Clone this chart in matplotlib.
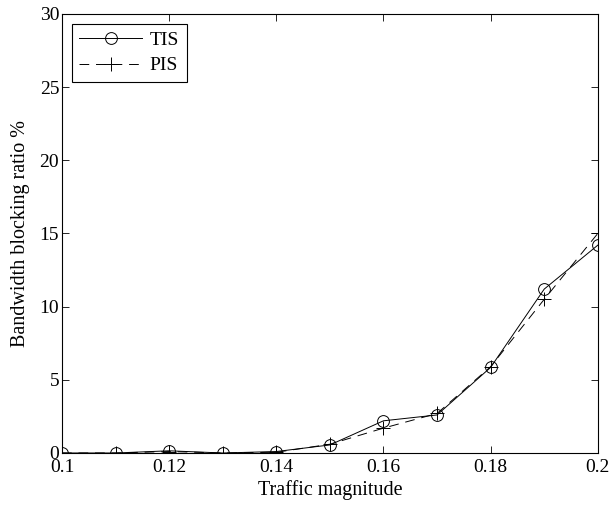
import matplotlib
matplotlib.use("Agg")
import matplotlib.pyplot as plt

plt.rcParams['font.family'] = ['Liberation Serif', 'DejaVu Serif']

# dados
trafego = [0.10, 0.11, 0.12, 0.13, 0.14, 0.15, 0.16, 0.17, 0.18, 0.19, 0.20]
tis = [0.0, 0.0, 0.15, 0.0, 0.1, 0.55, 2.2, 2.6, 5.85, 11.2, 14.2]
pis = [0.0, 0.0, 0.1, 0.0, 0.05, 0.6, 1.7, 2.7, 5.9, 10.5, 15.0]

fig = plt.figure(figsize=(6.1, 5.17), dpi=100)
ax = fig.add_axes([0.1016, 0.1238, 0.8784, 0.8492])

ax.plot(trafego, tis, '-o', color='black', lw=0.7, ms=8.5, mfc='none', mew=0.7, label='TIS')
ax.plot(trafego, pis, '--+', color='black', lw=0.7, ms=10, mew=0.7, dashes=(10, 7), label='PIS')

ax.set_xlim(0.1, 0.2)
ax.set_ylim(0, 30)
ax.set_xticks([0.1, 0.12, 0.14, 0.16, 0.18, 0.2])
ax.set_xticklabels(['0.1', '0.12', '0.14', '0.16', '0.18', '0.2'])
ax.set_yticks([0, 5, 10, 15, 20, 25, 30])
ax.tick_params(direction='in', top=True, right=True, labelsize=14, length=5, width=0.6)
ax.tick_params(axis='y', pad=2)
ax.tick_params(axis='x', pad=4)
for s in ax.spines.values():
    s.set_linewidth(0.8)

ax.set_xlabel('Traffic magnitude', fontsize=14.5, labelpad=3)
ax.set_ylabel('Bandwidth blocking ratio %', fontsize=14.5, labelpad=7)

leg = ax.legend(loc='upper left', fontsize=14, fancybox=False, edgecolor='black',
                framealpha=1, handlelength=3.2, labelspacing=0.4, borderaxespad=0.5,
                handletextpad=0.4, borderpad=0.4)
leg.get_frame().set_linewidth(0.8)

fig.savefig('out.png', dpi=100)
